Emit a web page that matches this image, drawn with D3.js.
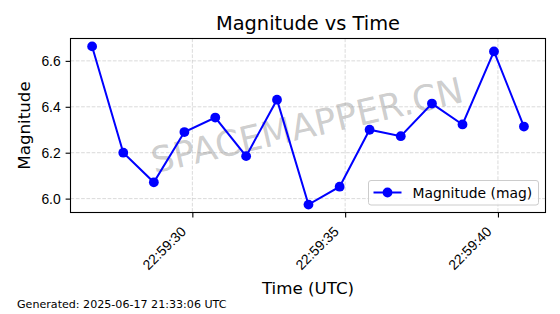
<!DOCTYPE html>
<meta charset="utf-8">
<style>
    body { margin: 0; overflow: hidden; background: #fff; }
    svg { font-family: "DejaVu Sans", sans-serif; }
    .grid line { stroke: #b0b0b0; stroke-opacity: 0.6; stroke-dasharray: 3.7,1.6; stroke-width: 0.8; }
</style>
<svg id="canvas" width="560" height="314"></svg>
<script src="https://d3js.org/d3.v7.min.js"></script>
<script>

    // seconds past 22:59 on 2025-06-17 (UTC)
    var seconds = [26.72, 27.74, 28.74, 29.74, 30.75, 31.76, 32.77, 33.80,
                   34.82, 35.80, 36.82, 37.84, 38.84, 39.87, 40.85];
    var magnitude = [6.663, 6.20, 6.071, 6.29, 6.353, 6.185, 6.431, 5.974,
                     6.052, 6.30, 6.272, 6.414, 6.323, 6.641, 6.314];
    var yTicks = [6.0, 6.2, 6.4, 6.6];
    var title = "Magnitude vs Time",
        xLabel = "Time (UTC)",
        yLabel = "Magnitude",
        seriesName = "Magnitude (mag)",
        footer = "Generated: 2025-06-17 21:33:06 UTC",
        watermark = "SPACEMAPPER.CN";

    var base = Date.UTC(2025, 5, 17, 22, 59, 0);
    var data = seconds.map(function(s, i) {
        return { t: new Date(base + s * 1000), v: magnitude[i] };
    });

    var svg = d3.select("svg"),
        pLeft = 70.5, pRight = 545.5, pTop = 38.5, pBottom = 212.5;

    function pad(ext) {
        var d = (ext[1] - ext[0]) * 0.05;
        return [ext[0] - d, ext[1] + d];
    }

    var tExt = pad(d3.extent(data, function(d) { return +d.t; }));
    var x = d3.scaleUtc().domain([new Date(tExt[0]), new Date(tExt[1])]).range([pLeft, pRight]);
    var y = d3.scaleLinear().domain(pad(d3.extent(magnitude))).range([pBottom, pTop]);

    var xTicks = x.ticks(d3.utcSecond.every(5));

    // grid
    var grid = svg.append("g").attr("class", "grid");
    grid.selectAll(".gx").data(xTicks).enter().append("line")
        .attr("x1", function(d) { return x(d); }).attr("x2", function(d) { return x(d); })
        .attr("y1", pTop).attr("y2", pBottom);
    grid.selectAll(".gy").data(yTicks).enter().append("line")
        .attr("y1", function(d) { return y(d); }).attr("y2", function(d) { return y(d); })
        .attr("x1", pLeft).attr("x2", pRight);

    // watermark
    svg.append("text")
        .attr("transform", "translate(307,125) rotate(-13)")
        .attr("text-anchor", "middle")
        .attr("dy", "0.36em")
        .attr("font-size", 35.5)
        .attr("fill", "#808080")
        .attr("fill-opacity", 0.4)
        .text(watermark);

    // axes
    var xAxis = svg.append("g")
        .attr("transform", "translate(0," + pBottom + ")")
        .call(d3.axisBottom(x).tickValues(xTicks).tickFormat(d3.utcFormat("%H:%M:%S")).tickSize(4.9).tickSizeOuter(0));
    xAxis.selectAll("text")
        .attr("font-size", 13.9)
        .attr("fill", "#000")
        .attr("text-anchor", "end")
        .attr("dy", null)
        .attr("y", 0)
        .attr("transform", "translate(-6,20) rotate(-45)");

    var yAxis = svg.append("g")
        .attr("transform", "translate(" + pLeft + ",0)")
        .call(d3.axisLeft(y).tickValues(yTicks).tickFormat(d3.format(".1f")).tickSize(4.9).tickPadding(4.9).tickSizeOuter(0));
    yAxis.selectAll("text").attr("font-size", 13.9).attr("fill", "#000");

    svg.selectAll(".domain").remove();
    svg.selectAll(".tick line").attr("stroke", "#000").attr("stroke-width", 1.1);

    // frame
    svg.append("rect")
        .attr("x", pLeft).attr("y", pTop)
        .attr("width", pRight - pLeft).attr("height", pBottom - pTop)
        .attr("fill", "none").attr("stroke", "#000").attr("stroke-width", 1.1);

    // line + markers
    var line = d3.line()
        .x(function(d) { return x(d.t); })
        .y(function(d) { return y(d.v); });

    svg.append("path")
        .datum(data)
        .attr("d", line)
        .attr("fill", "none")
        .attr("stroke", "#0000ff")
        .attr("stroke-width", 2);

    svg.append("g").selectAll("circle")
        .data(data)
        .enter().append("circle")
        .attr("cx", function(d) { return x(d.t); })
        .attr("cy", function(d) { return y(d.v); })
        .attr("r", 4.9)
        .attr("fill", "#0000ff");

    // legend
    var lg = svg.append("g").attr("transform", "translate(368.5,180.5)");
    lg.append("rect")
        .attr("width", 170).attr("height", 24.5).attr("rx", 2.5)
        .attr("fill", "#fff").attr("fill-opacity", 0.8)
        .attr("stroke", "#cccccc").attr("stroke-width", 1);
    lg.append("line")
        .attr("x1", 5).attr("x2", 33).attr("y1", 12).attr("y2", 12)
        .attr("stroke", "#0000ff").attr("stroke-width", 2);
    lg.append("circle").attr("cx", 19).attr("cy", 12).attr("r", 4.9).attr("fill", "#0000ff");
    lg.append("text")
        .attr("x", 44).attr("y", 12).attr("dy", "0.36em")
        .attr("font-size", 13.9)
        .text(seriesName);

    // titles
    svg.append("text")
        .attr("x", (pLeft + pRight) / 2).attr("y", 30)
        .attr("text-anchor", "middle").attr("font-size", 19.4)
        .text(title);

    svg.append("text")
        .attr("x", (pLeft + pRight) / 2).attr("y", 294)
        .attr("text-anchor", "middle").attr("font-size", 16.7)
        .text(xLabel);

    svg.append("text")
        .attr("transform", "translate(30," + ((pTop + pBottom) / 2) + ") rotate(-90)")
        .attr("text-anchor", "middle").attr("font-size", 16.7)
        .text(yLabel);

    svg.append("text")
        .attr("x", 17).attr("y", 308)
        .attr("font-size", 11.1)
        .text(footer);

</script>
